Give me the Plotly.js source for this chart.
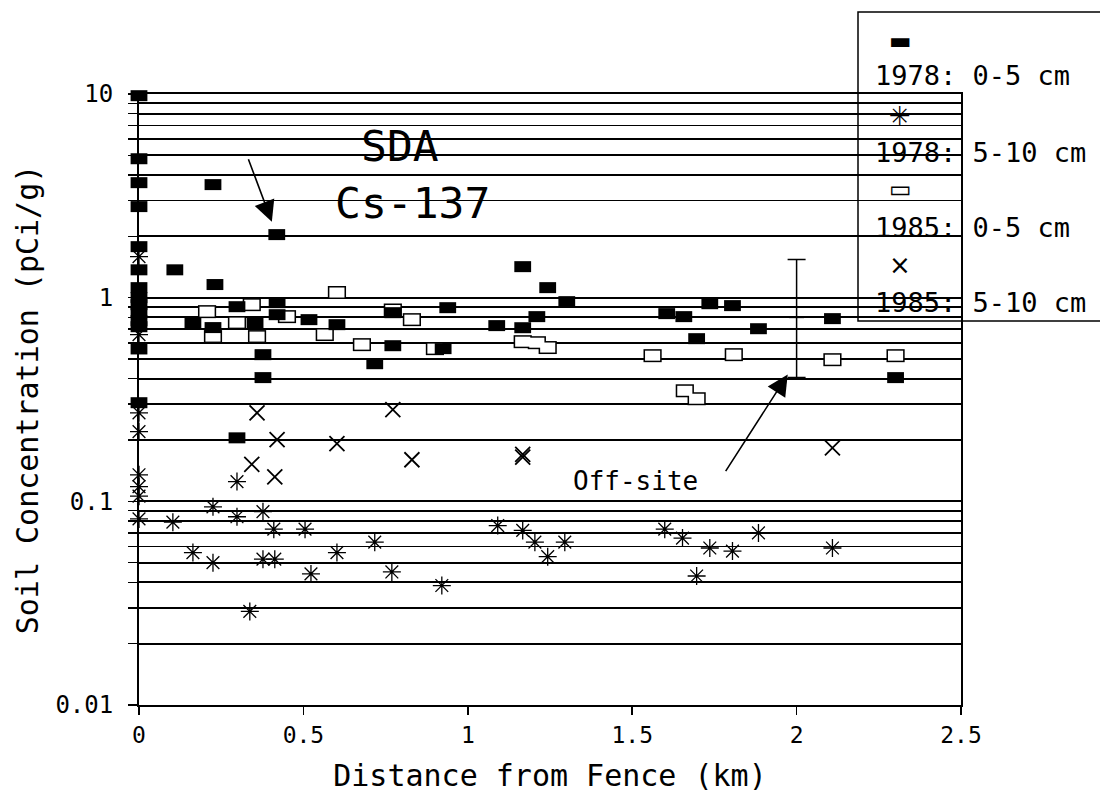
<!DOCTYPE html>
<html>
<head>
<meta charset="utf-8">
<script src="https://cdn.plot.ly/plotly-3.0.1.min.js"></script>
<style>html,body{margin:0;padding:0;background:#fff;}#chart{width:1100px;height:797px;}</style>
</head>
<body>
<div id="chart"></div>
<script>
// ---- data (km, pCi/g) ----
// 1978: 0-5 cm (filled rectangles)
const x1978top = [0,0,0,0,0,0,0,0,0,0,0,0,0,0,
  0.225,0.419,0.109,0.231,0.298,0.42,0.42,0.164,0.225,0.353,0.377,0.377,0.298,
  0.517,0.602,0.772,0.925,0.717,0.939,0.772,1.088,1.167,1.243,1.301,1.21,1.167,
  1.605,1.657,1.696,1.736,1.805,1.884,2.109,2.301];
const y1978top = [9.81,4.81,3.67,2.80,1.78,1.37,1.12,1.0,0.924,0.844,0.771,0.72,0.56,0.305,
  3.59,2.04,1.37,1.16,0.903,0.945,0.825,0.754,0.713,0.754,0.525,0.405,0.205,
  0.78,0.737,0.581,0.562,0.474,0.893,0.844,0.729,1.42,1.12,0.956,0.807,0.712,
  0.835,0.807,0.629,0.934,0.914,0.704,0.789,0.405];
// 1978: 5-10 cm (asterisks)
const x1978sub = [0,0,0,0,0,0,0,0,
  0.103,0.164,0.225,0.225,0.298,0.298,0.337,0.377,0.377,0.41,0.413,0.505,0.523,
  0.602,0.717,0.769,0.921,1.091,1.167,1.204,1.295,1.243,1.599,1.653,1.736,1.805,
  1.884,2.109,1.696];
const y1978sub = [1.59,0.658,0.272,0.22,0.135,0.118,0.106,0.082,
  0.079,0.056,0.094,0.05,0.125,0.084,0.0288,0.089,0.052,0.073,0.052,0.073,0.044,
  0.056,0.063,0.045,0.0386,0.076,0.072,0.063,0.063,0.0535,0.073,0.066,0.059,0.057,
  0.070,0.059,0.043];
// 1985: 0-5 cm (open rectangles)
const x1985top = [0.207,0.343,0.225,0.298,0.359,0.45,0.602,0.565,0.678,0.90,0.83,0.772,
  1.167,1.21,1.243,1.562,1.809,2.109,2.301,1.66,1.696];
const y1985top = [0.854,0.924,0.644,0.754,0.644,0.807,1.06,0.659,0.588,0.562,0.78,0.87,
  0.608,0.601,0.569,0.519,0.525,0.496,0.519,0.349,0.319];
// 1985: 5-10 cm (crosses)
const x1985sub = [0.359,0.42,0.343,0.413,0.602,0.772,0.83,1.167,1.167,2.109];
const y1985sub = [0.272,0.201,0.152,0.132,0.192,0.282,0.16,0.17,0.165,0.183];
// Off-site range
const xOff = [2.0];
const yOffMid = [0.8];
const yOffHigh = [1.54];
const yOffLow = [0.405];

const yTickVals = [0.01, 0.1, 1, 10];
const yTickText = ['0.01', '0.1', '1', '10'];
const xTickVals = [0, 0.5, 1, 1.5, 2, 2.5];
const xTickText = ['0', '0.5', '1', '1.5', '2', '2.5'];

const legendLabels = ['1978: 0-5 cm', '1978: 5-10 cm', '1985: 0-5 cm', '1985: 5-10 cm'];
const legendGlyphs = ['\u25AC', '\u2733', '\u25AD', '\u00D7'];

const MONO = '"DejaVu Sans Mono", "Liberation Mono", monospace';
const SANS = '"DejaVu Sans", sans-serif';

const traces = [
  { x: x1985top, y: y1985top, mode: 'markers', type: 'scatter', cliponaxis: false, showlegend: false,
    marker: { symbol: 'line-ew-open', size: 13, color: 'black', line: { width: 13, color: 'black' } } },
  { x: x1985top, y: y1985top, mode: 'markers', type: 'scatter', cliponaxis: false, showlegend: false, hoverinfo: 'skip',
    marker: { symbol: 'line-ew-open', size: 10.8, color: 'white', line: { width: 10, color: 'white' } } },
  { x: x1978top, y: y1978top, mode: 'markers', type: 'scatter', cliponaxis: false, showlegend: false,
    marker: { symbol: 'line-ew-open', size: 12, color: 'black', line: { width: 11, color: 'black' } } },
  { x: x1978sub, y: y1978sub, mode: 'markers', type: 'scatter', cliponaxis: false, showlegend: false,
    marker: { symbol: 'asterisk-open', size: 15, color: 'black', line: { width: 1.3, color: 'black' } } },
  { x: x1985sub, y: y1985sub, mode: 'markers', type: 'scatter', cliponaxis: false, showlegend: false,
    marker: { symbol: 'x-thin-open', size: 15, color: 'black', line: { width: 1.8, color: 'black' } } },
  { x: xOff, y: yOffMid, mode: 'markers', type: 'scatter', cliponaxis: false, showlegend: false,
    marker: { symbol: 'line-ew-open', size: 10.7, color: 'black', line: { width: 1.5, color: 'black' } },
    error_y: { type: 'data', symmetric: false,
      array: yOffHigh.map((h, i) => h - yOffMid[i]),
      arrayminus: yOffLow.map((l, i) => yOffMid[i] - l),
      color: 'black', thickness: 1.5, width: 9 } }
];

const P = v => (v - 139) / 822;          // pixel x -> paper
const Q = v => (705 - v) / 611;          // pixel y -> paper
const legendTextY = [75, 152, 227, 302];
const legendGlyphY = [41, 116, 189, 265];
const legendGlyphSize = [24, 26, 24, 26];

const annotations = [
  { xref: 'paper', yref: 'paper', x: P(400), y: Q(146), text: 'SDA', showarrow: false,
    font: { family: MONO, size: 43, color: 'black' }, xanchor: 'center', yanchor: 'middle' },
  { xref: 'paper', yref: 'paper', x: P(412), y: Q(203), text: 'Cs-137', showarrow: false,
    font: { family: MONO, size: 43, color: 'black' }, xanchor: 'center', yanchor: 'middle' },
  { xref: 'x', yref: 'y', x: 0.404, y: Math.log10(2.36), text: '', showarrow: true,
    ax: -24, ay: -64, arrowhead: 2, arrowsize: 2.6, arrowwidth: 1.6, arrowcolor: 'black' },
  { xref: 'paper', yref: 'paper', x: P(635), y: Q(481), text: 'Off-site', showarrow: false,
    font: { family: MONO, size: 26, color: 'black' }, xanchor: 'center', yanchor: 'middle' },
  { xref: 'x', yref: 'y', x: 1.973, y: Math.log10(0.419), text: '', showarrow: true,
    ax: -63, ay: 98, arrowhead: 2, arrowsize: 2.6, arrowwidth: 1.6, arrowcolor: 'black' }
];
legendLabels.forEach((t, i) => {
  annotations.push({ xref: 'paper', yref: 'paper', x: P(873), y: Q(legendTextY[i]), text: t,
    showarrow: false, xanchor: 'left', yanchor: 'middle',
    font: { family: MONO, size: 27, color: 'black' } });
  annotations.push({ xref: 'paper', yref: 'paper', x: P(900), y: Q(legendGlyphY[i]), text: legendGlyphs[i],
    showarrow: false, xanchor: 'center', yanchor: 'middle',
    font: { family: SANS, size: legendGlyphSize[i], color: 'black' } });
});

const layout = {
  width: 1100, height: 797,
  margin: { l: 139, r: 139, t: 94, b: 92, pad: 0 },
  paper_bgcolor: 'white', plot_bgcolor: 'white',
  showlegend: false,
  xaxis: {
    range: [0, 2.5], tickmode: 'array', tickvals: xTickVals, ticktext: xTickText,
    ticks: 'outside', ticklen: 8, tickwidth: 1.5, tickcolor: 'black',
    showgrid: false, zeroline: false, showline: true, linecolor: 'black', linewidth: 2, mirror: true,
    tickfont: { family: MONO, size: 23, color: 'black' }, ticklabelstandoff: 0,
    title: { text: 'Distance from Fence (km)', font: { family: MONO, size: 30, color: 'black' }, standoff: 18 },
    automargin: false
  },
  yaxis: {
    type: 'log', range: [-2, 1], tickmode: 'array', tickvals: yTickVals, ticktext: yTickText,
    ticks: 'outside', ticklen: 9, tickwidth: 1.5, tickcolor: 'black',
    showgrid: true, gridcolor: 'black', gridwidth: 1.8,
    minor: { dtick: 'D1', ticks: 'outside', ticklen: 9, tickwidth: 1.5, tickcolor: 'black',
             showgrid: true, gridcolor: 'black', gridwidth: 1.8 },
    zeroline: false, showline: true, linecolor: 'black', linewidth: 2, mirror: true,
    tickfont: { family: MONO, size: 24, color: 'black' }, ticklabelstandoff: 10,
    title: { text: 'Soil Concentration (pCi/g)', font: { family: MONO, size: 30, color: 'black' }, standoff: 8 },
    automargin: false
  },
  shapes: [
    { type: 'rect', xref: 'paper', yref: 'paper', x0: P(858), x1: P(1110), y0: Q(321), y1: Q(12),
      line: { color: 'black', width: 1.5 }, fillcolor: 'rgba(0,0,0,0)' }
  ],
  annotations: annotations
};

Plotly.newPlot('chart', traces, layout, { displayModeBar: false, staticPlot: true });
</script>
</body>
</html>
